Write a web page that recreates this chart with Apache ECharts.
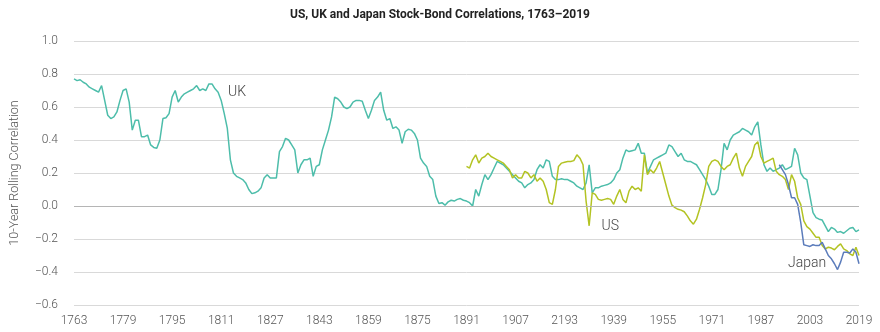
<!DOCTYPE html>
<html>
<head>
<meta charset="utf-8">
<script src="https://cdn.jsdelivr.net/npm/echarts@6/dist/echarts.min.js"></script>
<style>
  html, body { margin: 0; padding: 0; background: #ffffff; }
  #chart { width: 880px; height: 332px; }
</style>
</head>
<body>
<div id="chart"></div>
<script>
// Axis frame: years are plotted as offsets from the first year
const baseYear = 1763;
const xTickLabels = ['1763', '1779', '1795', '1811', '1827', '1843', '1859', '1875', '1891',
  '1907', '2193', '1939', '1955', '1971', '1987', '2003', '2019'];

// UK 10-year rolling stock-bond correlation, one value per year from 1763
const ukStart = 1763;
const ukValues = [
  0.77, 0.76, 0.765, 0.75, 0.74, 0.72, 0.71,                      // 1763-1769
  0.70, 0.69, 0.73, 0.64, 0.55, 0.53, 0.54, 0.57, 0.64, 0.70,     // 1770s
  0.71, 0.63, 0.46, 0.52, 0.52, 0.42, 0.42, 0.43, 0.37, 0.355,    // 1780s
  0.35, 0.40, 0.53, 0.535, 0.56, 0.66, 0.70, 0.63, 0.66, 0.68,    // 1790s
  0.69, 0.70, 0.71, 0.73, 0.70, 0.71, 0.70, 0.74, 0.74, 0.71,     // 1800s
  0.69, 0.64, 0.56, 0.47, 0.28, 0.20, 0.18, 0.17, 0.16, 0.14,     // 1810s
  0.10, 0.075, 0.08, 0.09, 0.11, 0.17, 0.19, 0.17, 0.17, 0.17,    // 1820s
  0.33, 0.36, 0.41, 0.40, 0.37, 0.34, 0.20, 0.25, 0.28, 0.28,     // 1830s
  0.29, 0.18, 0.24, 0.25, 0.34, 0.40, 0.46, 0.54, 0.66, 0.65,     // 1840s
  0.63, 0.60, 0.59, 0.60, 0.63, 0.64, 0.64, 0.635, 0.58, 0.53,    // 1850s
  0.58, 0.64, 0.66, 0.69, 0.58, 0.52, 0.53, 0.47, 0.48, 0.46,     // 1860s
  0.38, 0.45, 0.465, 0.46, 0.44, 0.40, 0.29, 0.26, 0.24, 0.18,    // 1870s
  0.16, 0.06, 0.015, 0.02, 0.005, 0.025, 0.035, 0.03, 0.04, 0.045,// 1880s
  0.035, 0.03, 0.02, 0.0, 0.10, 0.06, 0.13, 0.19, 0.16, 0.19,     // 1890s
  0.23, 0.27, 0.26, 0.25, 0.23, 0.21, 0.19, 0.17, 0.15, 0.14,     // 1900s
  0.11, 0.13, 0.14, 0.16, 0.22, 0.25, 0.23, 0.28, 0.27, 0.18,     // 1910s
  0.16, 0.16, 0.165, 0.16, 0.16, 0.15, 0.14, 0.12, 0.11, 0.10,    // 1920s
  0.14, 0.25, 0.08, 0.11, 0.11, 0.12, 0.125, 0.13, 0.14, 0.16,    // 1930s
  0.20, 0.22, 0.29, 0.34, 0.33, 0.335, 0.34, 0.38, 0.32, 0.32,    // 1940s
  0.20, 0.24, 0.28, 0.29, 0.30, 0.31, 0.32, 0.37, 0.36, 0.33,     // 1950s
  0.30, 0.32, 0.28, 0.27, 0.27, 0.26, 0.25, 0.22, 0.19, 0.16,     // 1960s
  0.12, 0.07, 0.07, 0.10, 0.22, 0.38, 0.34, 0.40, 0.43, 0.44,     // 1970s
  0.45, 0.47, 0.46, 0.45, 0.43, 0.48, 0.51, 0.37, 0.25, 0.21,     // 1980s
  0.23, 0.21, 0.22, 0.23, 0.25, 0.22, 0.23, 0.24, 0.35, 0.31,     // 1990s
  0.20, 0.17, 0.16, 0.06, -0.04, -0.07, -0.08, -0.085, -0.12, -0.155, // 2000s
  -0.13, -0.14, -0.16, -0.155, -0.165, -0.15, -0.135, -0.13, -0.155, -0.145 // 2010s
];

// US series, one value per year from 1891
const usStart = 1891;
const usValues = [
  0.24, 0.23, 0.28, 0.31, 0.26, 0.29, 0.30, 0.32, 0.30,           // 1891-1899
  0.29, 0.28, 0.27, 0.26, 0.24, 0.22, 0.17, 0.19, 0.17, 0.17,     // 1900s
  0.21, 0.20, 0.17, 0.19, 0.15, 0.17, 0.15, 0.10, 0.02, 0.01,     // 1910s
  0.10, 0.24, 0.26, 0.265, 0.27, 0.27, 0.275, 0.31, 0.29, 0.25,   // 1920s
  0.03, -0.12, 0.08, 0.07, 0.04, 0.035, 0.04, 0.045, 0.04, 0.01,  // 1930s
  0.06, 0.10, 0.04, 0.02, 0.09, 0.12, 0.10, 0.11, 0.09, 0.31,     // 1940s
  0.19, 0.22, 0.20, 0.23, 0.27, 0.20, 0.13, 0.06, 0.005, -0.01,   // 1950s
  -0.02, -0.025, -0.035, -0.06, -0.09, -0.11, -0.08, -0.02, 0.05, 0.13, // 1960s
  0.24, 0.27, 0.28, 0.27, 0.24, 0.22, 0.24, 0.25, 0.29, 0.32,     // 1970s
  0.23, 0.18, 0.24, 0.27, 0.30, 0.37, 0.39, 0.30, 0.26, 0.27,     // 1980s
  0.28, 0.29, 0.21, 0.19, 0.18, 0.16, 0.10, 0.19, 0.15, 0.05,     // 1990s
  0.01, -0.09, -0.125, -0.14, -0.165, -0.19, -0.19, -0.24, -0.26, -0.25, // 2000s
  -0.255, -0.265, -0.245, -0.23, -0.26, -0.27, -0.29, -0.30, -0.25, -0.30 // 2010s
];

// Japan series, one value per year from 1993
const jpStart = 1993;
const jpValues = [
  0.25, 0.22, 0.19, 0.13, 0.05, 0.05, 0.01,                       // 1993-1999
  -0.10, -0.235, -0.24, -0.245, -0.235, -0.24, -0.24, -0.22, -0.26, -0.30, // 2000s
  -0.32, -0.35, -0.385, -0.34, -0.28, -0.28, -0.285, -0.26, -0.28, -0.35   // 2010s
];

const seriesNames = ['UK', 'US', 'Japan'];
const seriesColors = ['#4dbdaa', '#b3c323', '#5b7cbb'];

function toPoints(start, values) {
  return values.map((v, i) => [start + i - baseYear, v]);
}

const FONT = "Roboto, 'Liberation Sans', sans-serif";

function nameLabel(text, coord) {
  return {
    silent: true,
    symbol: 'circle',
    symbolSize: 0,
    data: [{ coord: coord }],
    label: {
      show: true,
      position: 'inside',
      formatter: text,
      color: '#444444',
      fontFamily: FONT,
      fontWeight: 300,
      fontSize: 14
    }
  };
}

const chart = echarts.init(document.getElementById('chart'), null, { renderer: 'canvas' });

chart.setOption({
  animation: false,
  backgroundColor: '#ffffff',
  title: {
    text: 'US, UK and Japan Stock-Bond Correlations, 1763–2019',
    left: 'center',
    top: 4,
    textStyle: { fontFamily: FONT, fontSize: 12, fontWeight: 'bold', color: '#222222' }
  },
  grid: { left: 69, right: 21, top: 41, bottom: 27, containLabel: false },
  xAxis: {
    type: 'value',
    min: 0,
    max: 256,
    interval: 16,
    axisLine: { show: false },
    axisTick: { show: false },
    splitLine: { show: false },
    axisLabel: {
      margin: 10,
      color: '#555555',
      fontFamily: FONT,
      fontWeight: 300,
      fontSize: 12,
      formatter: v => xTickLabels[Math.round(v / 16)] || ''
    }
  },
  yAxis: {
    type: 'value',
    min: -0.6,
    max: 1.0,
    interval: 0.2,
    name: '10-Year Rolling Correlation',
    nameLocation: 'middle',
    nameGap: 53,
    nameTextStyle: { fontFamily: FONT, fontWeight: 300, fontSize: 12.5, color: '#555555' },
    axisLine: { show: false },
    axisTick: { show: false },
    splitLine: { lineStyle: { color: '#d9d9d9', width: 1 } },
    axisLabel: {
      margin: 16,
      color: '#555555',
      fontFamily: FONT,
      fontWeight: 300,
      fontSize: 12,
      formatter: v => {
        const s = Math.abs(v).toFixed(1);
        return v < -1e-9 ? '\u2212' + s : s;
      }
    }
  },
  series: [
    {
      name: seriesNames[0],
      type: 'line',
      data: toPoints(ukStart, ukValues),
      showSymbol: false,
      lineStyle: { color: seriesColors[0], width: 1.5 },
      itemStyle: { color: seriesColors[0] },
      markLine: {
        silent: true,
        symbol: 'none',
        label: { show: false },
        lineStyle: { color: '#b5b5b5', width: 1, type: 'solid' },
        data: [{ yAxis: 0 }]
      },
      markPoint: nameLabel('UK', [1816.2 - baseYear, 0.69]),
      z: 2
    },
    {
      name: seriesNames[1],
      type: 'line',
      data: toPoints(usStart, usValues),
      showSymbol: false,
      lineStyle: { color: seriesColors[1], width: 1.5 },
      itemStyle: { color: seriesColors[1] },
      markPoint: nameLabel('US', [1937.9 - baseYear, -0.127]),
      z: 3
    },
    {
      name: seriesNames[2],
      type: 'line',
      data: toPoints(jpStart, jpValues),
      showSymbol: false,
      lineStyle: { color: seriesColors[2], width: 1.5 },
      itemStyle: { color: seriesColors[2] },
      markPoint: nameLabel('Japan', [2002.1 - baseYear, -0.35]),
      z: 4
    }
  ]
});
</script>
</body>
</html>
